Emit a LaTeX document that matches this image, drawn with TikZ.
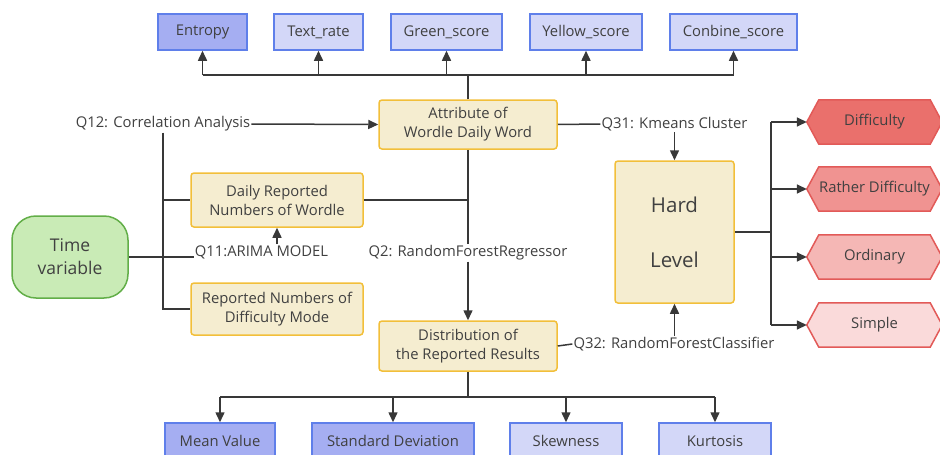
\documentclass[tikz,border=0pt]{standalone}
\usepackage{fontspec}
\setmainfont{Open Sans}
\usetikzlibrary{arrows.meta,calc,backgrounds}
\definecolor{txt}{HTML}{404040}
\definecolor{ln}{HTML}{383838}
\definecolor{bluedk}{HTML}{A5AEF2}
\definecolor{bluelt}{HTML}{D3D7F8}
\definecolor{blueln}{HTML}{5F7FEA}
\definecolor{yelfill}{HTML}{F5EDD0}
\definecolor{yelln}{HTML}{F2BF3A}
\definecolor{grfill}{HTML}{C9EBB6}
\definecolor{grln}{HTML}{62AE48}
\definecolor{redln}{HTML}{E25A58}
\definecolor{red1}{HTML}{EA706C}
\definecolor{red2}{HTML}{F09391}
\definecolor{red3}{HTML}{F5B7B5}
\definecolor{red4}{HTML}{FADADA}
\begin{document}
\begin{tikzpicture}[x=1pt,y=-1pt,
  every node/.style={text=txt,font=\fontsize{14.8}{19}\selectfont},
  conn/.style={draw=ln,line width=1.5pt},
  arr/.style={conn,-{Triangle[length=10pt,width=9pt]}},
  featbox/.style={draw=blueln,line width=1.5pt,minimum height=36pt,inner sep=0pt},
  featdk/.style={featbox,fill=bluedk},
  featlt/.style={featbox,fill=bluelt},
  ybox/.style={draw=yelln,fill=yelfill,line width=1.5pt,rounded corners=3pt,align=center,inner sep=0pt},
  lbl/.style={inner sep=1pt,fill=white},
  hexnode/.style={minimum width=135pt,minimum height=44pt,inner sep=0pt}
]
\useasboundingbox (0,0) rectangle (940,455);
% top feature boxes
\node[featdk,minimum width=89pt] (ent) at (202.5,32) {Entropy};
\node[featlt,minimum width=89pt] (txr) at (318.5,32) {Text\_rate};
\node[featlt,minimum width=111pt] (grs) at (446.5,32) {Green\_score};
\node[featlt,minimum width=112pt] (yls) at (586,32) {Yellow\_score};
\node[featlt,minimum width=127pt] (cbs) at (733.5,32) {Conbine\_score};
% yellow boxes
\node[ybox,minimum width=178pt,minimum height=49pt] (attr) at (468,124.5) {Attribute of\\Wordle Daily Word};
\node[ybox,minimum width=172pt,minimum height=54pt] (daily) at (277,200) {Daily Reported\\Numbers of Wordle};
\node[ybox,minimum width=172pt,minimum height=52pt] (dmode) at (277,309) {Reported Numbers of\\Difficulty Mode};
\node[ybox,minimum width=178pt,minimum height=50pt] (dist) at (468,346) {Distribution of\\the Reported Results};
\node[ybox,minimum width=119pt,minimum height=142pt,font=\fontsize{20.5}{55}\selectfont] (hard) at (674.5,232) {Hard\\Level};
% time variable
\node[draw=grln,fill=grfill,line width=1.5pt,rounded corners=24pt,minimum width=116pt,minimum height=82pt,align=center,inner sep=0pt,font=\fontsize{17.5}{23}\selectfont] (time) at (70,257) {Time\\variable};
% labels
\node[lbl] (q12) at (163,124) {Q12: Correlation Analysis};
\node[lbl] (q11) at (261.5,252) {Q11:ARIMA MODEL};
\node[lbl] (q2) at (468,253) {Q2: RandomForestRegressor};
\node[lbl] (q31) at (674.5,124) {Q31: Kmeans Cluster};
\node[lbl] (q32) at (674,344) {Q32: RandomForestClassifier};
% hexagons
\node[hexnode] (hd) at (874.5,122) {Difficulty};
\node[hexnode] (hrd) at (874.5,189) {Rather Difficulty};
\node[hexnode] (hor) at (874.5,257) {Ordinary};
\node[hexnode] (hsi) at (874.5,325) {Simple};
\begin{scope}[on background layer]
\foreach \n/\c in {hd/red1,hrd/red2,hor/red3,hsi/red4}{
  \draw[redln,fill=\c,line width=1.5pt] (\n.west) -- ($(\n.north west)+(12,0)$) -- ($(\n.north east)+(-12,0)$) -- (\n.east) -- ($(\n.south east)+(-12,0)$) -- ($(\n.south west)+(12,0)$) -- cycle;
}
\end{scope}
% bottom boxes
\node[featdk,minimum width=110pt] (mean) at (220,441) {Mean Value};
\node[featdk,minimum width=162pt] (std) at (393,441) {Standard Deviation};
\node[featlt,minimum width=112pt] (skew) at (566,441) {Skewness};
\node[featlt,minimum width=112pt] (kurt) at (715,441) {Kurtosis};
% top tree
\coordinate (tb) at (468,75);
\draw[conn] (attr.north) -- (tb);
\draw[conn] (ent.south |- tb) -- (cbs.south |- tb);
\foreach \n in {ent,txr,grs,yls,cbs}{\draw[arr] (\n.south |- tb) -- (\n.south);}
% Q12
\draw[arr] (q12.east) -- (attr.west);
\coordinate (vb) at (163,309);
\draw[conn] (q12.south) -- (vb) -- (dmode.west);
\draw[conn] (q12.south |- daily.west) -- (daily.west);
% Q11
\draw[conn] (time.east) -- (q11.west |- time.east);
\draw[arr] (277,244) -- (daily.south);
% Q2 trunk
\coordinate (jr) at (468,200);
\draw[conn] (daily.east) -- (jr);
\draw[conn] (attr.south) -- (q2.north);
\draw[arr] (q2.south) -- (dist.north);
% Q31/Q32
\draw[conn] (attr.east) -- (q31.west);
\draw[arr] (q31.south) -- (hard.north);
\draw[conn] (dist.east) -- (q32.west);
\draw[arr] (q32.north -| hard.south) -- (hard.south);
% right bus
\coordinate (rb) at (771,232);
\draw[conn] (hard.east) -- (rb);
\draw[conn] (771,122) -- (771,325);
\foreach \n in {hd,hrd,hor,hsi}{\draw[arr] (771,0 |- \n.west) -- (\n.west);}
% bottom tree
\coordinate (bb) at (468,397);
\draw[conn] (dist.south) -- (bb);
\draw[conn] (mean.north |- bb) -- (kurt.north |- bb);
\foreach \n in {mean,std,skew,kurt}{\draw[arr] (\n.north |- bb) -- (\n.north);}
\end{tikzpicture}
\end{document}
